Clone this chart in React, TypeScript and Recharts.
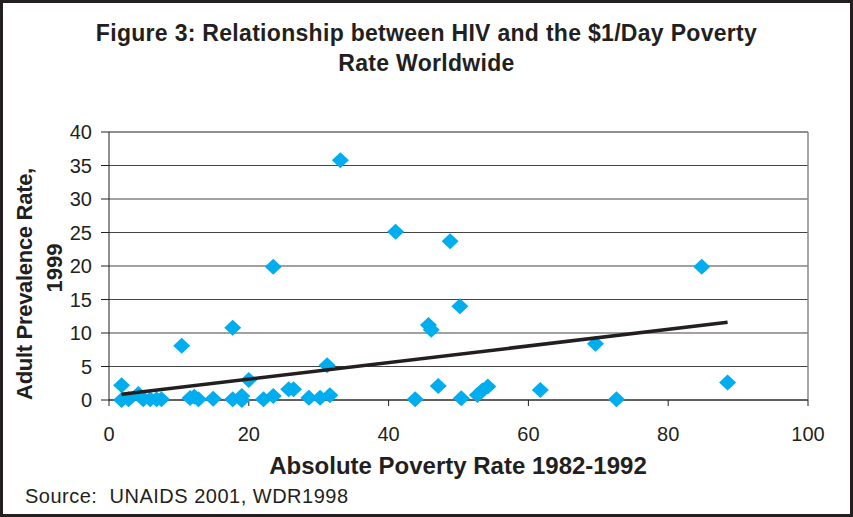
import React from "react";
import {
  ScatterChart,
  Scatter,
  XAxis,
  YAxis,
  CartesianGrid,
  ReferenceLine,
} from "recharts";

// absolute poverty rate 1982-1992 (%)
const povertyRate = [
  1.8, 1.8, 2.8, 4.2, 4.9, 5.9, 6.8, 7.5, 10.4, 11.6, 12.2, 12.8, 14.9, 17.7,
  17.7, 19.0, 19.0, 20.0, 22.1, 23.5, 23.5, 25.7, 26.4, 28.6, 30.2, 31.2, 31.6,
  33.1, 41.0, 43.8, 45.7, 46.1, 47.1, 48.8, 50.2, 50.4, 52.7, 53.4, 54.2, 61.7,
  69.6, 72.6, 84.8, 88.5,
];

// adult HIV prevalence rate 1999 (%)
const hivRate = [
  2.2, 0.0, 0.1, 0.9, 0.1, 0.1, 0.1, 0.1, 8.1, 0.3, 0.5, 0.1, 0.2, 10.8, 0.1,
  0.6, 0.0, 3.0, 0.1, 19.9, 0.6, 1.6, 1.6, 0.35, 0.35, 5.2, 0.7, 35.8, 25.1, 0.1,
  11.2, 10.5, 2.1, 23.7, 14.0, 0.25, 0.75, 1.4, 2.0, 1.5, 8.4, 0.1, 19.9, 2.6,
];

// fitted trend line, end points
const trendX = [1.8, 88.5];
const trendY = [0.85, 11.6];

const xTicks = [0, 20, 40, 60, 80, 100];
const yTicks = [0, 5, 10, 15, 20, 25, 30, 35, 40];

const FONT = "'Liberation Sans', Arial, Helvetica, sans-serif";
const INK = "#231f20";

const points = povertyRate.map((x, i) => ({ x, y: hivRate[i] }));
const trend = trendX.map((x, i) => ({ x, y: trendY[i] }));

const Diamond = (props: any) => {
  const { cx, cy } = props;
  if (cx == null || cy == null) return <g />;
  const w = 8.5;
  const h = 8;
  return (
    <polygon
      points={`${cx},${cy - h} ${cx + w},${cy} ${cx},${cy + h} ${cx - w},${cy}`}
      fill="#00aeef"
    />
  );
};

export default function App() {
  return (
    <div
      style={{
        position: "absolute",
        left: 0,
        top: 0,
        width: 853,
        height: 517,
        boxSizing: "border-box",
        border: `3px solid ${INK}`,
        background: "#fff",
        fontFamily: FONT,
        color: INK,
        overflow: "hidden",
      }}
    >
      <div style={{ position: "absolute", left: -3, top: -3 }}>
        <ScatterChart
          width={853}
          height={517}
          margin={{ top: 132, right: 45, bottom: 87, left: 49 }}
        >
          <CartesianGrid horizontal vertical={false} stroke="#444" strokeWidth={1.2} />
          <XAxis
            type="number"
            dataKey="x"
            domain={[0, 100]}
            ticks={xTicks}
            height={30}
            tickSize={6}
            tickMargin={21}
            stroke={INK}
            tick={{ fontSize: 20, fill: INK, fontFamily: FONT }}
          />
          <YAxis
            type="number"
            dataKey="y"
            domain={[0, 40]}
            ticks={yTicks}
            width={60}
            tickSize={8}
            tickMargin={9}
            stroke={INK}
            tick={{ fontSize: 20, fill: INK, fontFamily: FONT }}
          />
          <ReferenceLine x={100} stroke="#888" strokeWidth={1.5} />
          <ReferenceLine y={40} stroke="#888" strokeWidth={1.5} />
          <Scatter data={points} shape={Diamond} isAnimationActive={false} />
          <Scatter
            data={trend}
            line={{ stroke: INK, strokeWidth: 3.5 }}
            shape={() => <g />}
            isAnimationActive={false}
          />
        </ScatterChart>
      </div>

      <div
        style={{
          position: "absolute",
          left: -3,
          width: 853,
          top: 15,
          textAlign: "center",
          fontWeight: "bold",
          fontSize: 23,
          letterSpacing: 0.3,
          lineHeight: "30px",
        }}
      >
        Figure 3: Relationship between HIV and the $1/Day Poverty
        <br />
        Rate Worldwide
      </div>

      <div
        style={{
          position: "absolute",
          left: 25 - 3,
          top: 284 - 3,
          transform: "translate(-50%, -50%) rotate(-90deg)",
          whiteSpace: "nowrap",
          fontWeight: "bold",
          fontSize: 22,
          letterSpacing: -0.3,
        }}
      >
        Adult Prevalence Rate,
      </div>
      <div
        style={{
          position: "absolute",
          left: 55 - 3,
          top: 268 - 3,
          transform: "translate(-50%, -50%) rotate(-90deg)",
          whiteSpace: "nowrap",
          fontWeight: "bold",
          fontSize: 22,
        }}
      >
        1999
      </div>

      <div
        style={{
          position: "absolute",
          left: 458 - 3,
          top: 466 - 3,
          transform: "translate(-50%, -50%)",
          whiteSpace: "nowrap",
          fontWeight: "bold",
          fontSize: 24,
        }}
      >
        Absolute Poverty Rate 1982-1992
      </div>

      <div
        style={{
          position: "absolute",
          left: 25 - 3,
          top: 496 - 3,
          transform: "translateY(-50%)",
          whiteSpace: "nowrap",
          fontSize: 20,
          letterSpacing: 0.5,
        }}
      >
        Source:&nbsp; UNAIDS 2001, WDR1998
      </div>
    </div>
  );
}
